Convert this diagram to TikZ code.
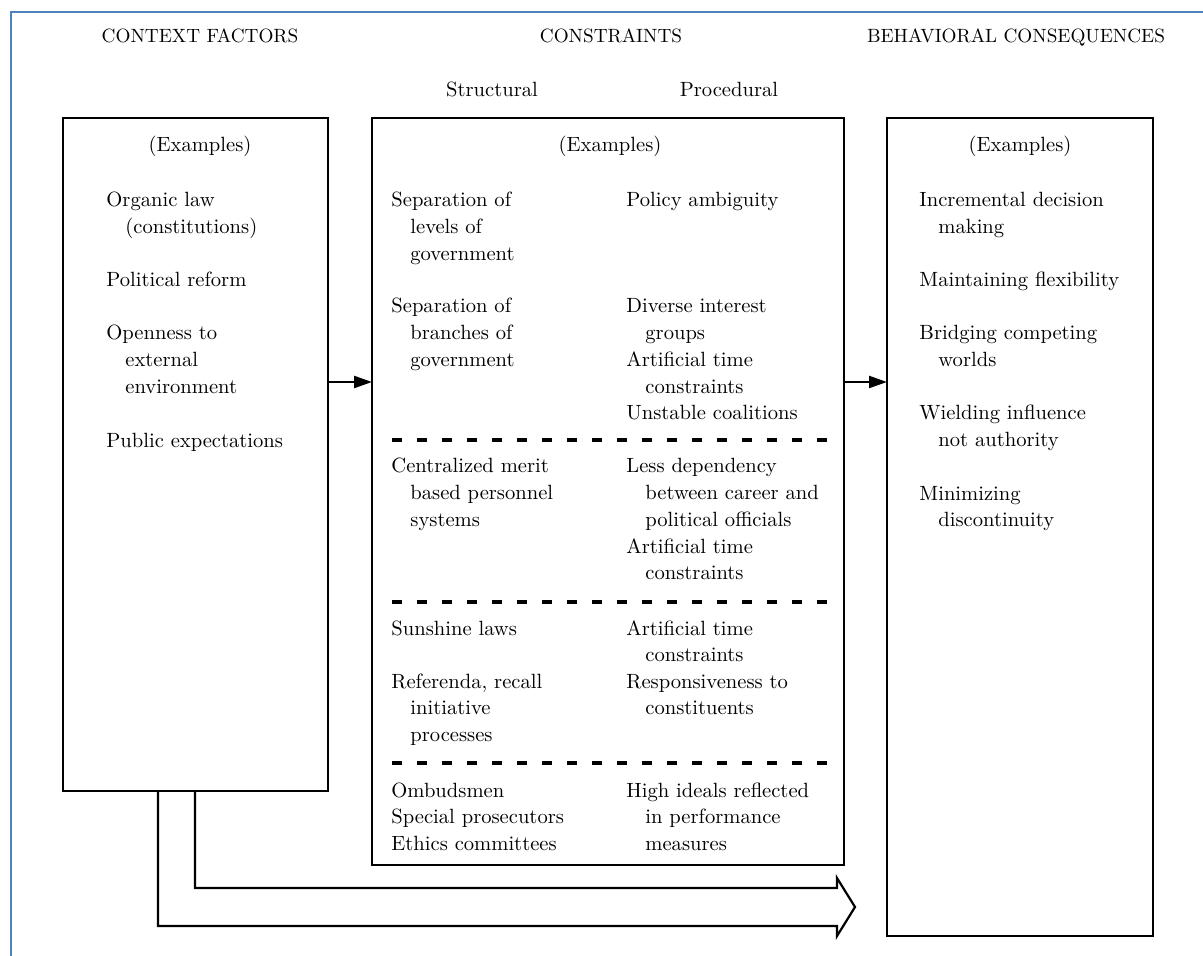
\documentclass[tikz,border=0pt]{standalone}
\usepackage{fontspec}
\usetikzlibrary{arrows.meta}
\definecolor{frameblue}{RGB}{79,129,189}
\newcommand\bodyfont{\fontsize{10.3}{13.35}\selectfont}
\newcommand\headfont{\fontsize{9.6}{12}\selectfont}
\newcommand\hind{\hspace*{9.5pt}}
\tikzset{
  x=0.5pt, y=-0.5pt,
  box/.style={draw, line width=1.1pt, anchor=north west, inner sep=0pt, outer sep=0pt},
  head/.style={anchor=base, inner sep=0pt, font=\headfont},
  sub/.style={anchor=base, inner sep=0pt, font=\bodyfont},
  item/.style={anchor=base west, inner sep=0pt, text width=125pt, align=left, font=\bodyfont},
  sep/.style={line width=1.6pt, dash pattern=on 5pt off 7.5pt},
  link/.style={line width=1.2pt, -{Triangle[length=9pt,width=6pt]}},
  hollow/.style={line width=1.1pt, line join=miter},
}
\begin{document}
\begin{tikzpicture}
\useasboundingbox (0,0) rectangle (1203,956);
% page frame
\draw[frameblue, line width=1pt] (11,956) -- (11,12) -- (1203,12);

% column headings
\node[head] (hctx) at (200,43) {CONTEXT FACTORS};
\node[head] (hcon) at (611,43) {CONSTRAINTS};
\node[head] (hbeh) at (1016,43) {BEHAVIORAL CONSEQUENCES};
\node[sub] (hstr) at (492,97) {Structural};
\node[sub] (hpro) at (729,97) {Procedural};

% the three boxes
\node[box, minimum width=132.5pt, minimum height=336.5pt] (lbox) at (63,118) {};
\node[box, minimum width=236pt, minimum height=373.5pt] (mbox) at (372,118) {};
\node[box, minimum width=133pt, minimum height=409pt] (rbox) at (887,118) {};

\node[sub] (lex) at (200,152) {(Examples)};
\node[sub] (mex) at (610,152) {(Examples)};
\node[sub] (rex) at (1020,152) {(Examples)};

% context factors
\node[item] (c1) at (106,207) {Organic law\\\hind(constitutions)};
\node[item] (c2) at (106,287) {Political reform};
\node[item] (c3) at (106,340) {Openness to\\\hind external\\\hind environment};
\node[item] (c4) at (106,447) {Public expectations};

% constraints, structural
\node[item] (s1) at (391,207) {Separation of\\\hind levels of\\\hind government};
\node[item] (s2) at (391,313) {Separation of\\\hind branches of\\\hind government};
\node[item] (s3) at (391,473) {Centralized merit\\\hind based personnel\\\hind systems};
\node[item] (s4) at (391,635) {Sunshine laws};
\node[item] (s5) at (391,688) {Referenda, recall\\\hind initiative\\\hind processes};
\node[item] (s6) at (391,797) {Ombudsmen\\Special prosecutors\\Ethics committees};

% constraints, procedural
\node[item] (p1) at (626,207) {Policy ambiguity};
\node[item] (p2) at (626,313) {Diverse interest\\\hind groups};
\node[item] (p3) at (626,367) {Artificial time\\\hind constraints};
\node[item] (p4) at (626,420) {Unstable coalitions};
\node[item] (p5) at (626,473) {Less dependency\\\hind between career and\\\hind political officials};
\node[item] (p6) at (626,553) {Artificial time\\\hind constraints};
\node[item] (p7) at (626,635) {Artificial time\\\hind constraints};
\node[item] (p8) at (626,688) {Responsiveness to\\\hind constituents};
\node[item] (p9) at (626,797) {High ideals reflected\\\hind in performance\\\hind measures};

% behavioral consequences
\node[item] (b1) at (919,207) {Incremental decision\\\hind making};
\node[item] (b2) at (919,287) {Maintaining flexibility};
\node[item] (b3) at (919,340) {Bridging competing\\\hind worlds};
\node[item] (b4) at (919,420) {Wielding influence\\\hind not authority};
\node[item] (b5) at (919,500) {Minimizing\\\hind discontinuity};

% dashed separators inside the constraints box
\coordinate (d1a) at (392,440); \coordinate (d1b) at (828,440);
\coordinate (d2a) at (392,602); \coordinate (d2b) at (828,602);
\coordinate (d3a) at (392,763); \coordinate (d3b) at (828,763);
\draw[sep] (d1a) -- (d1b);
\draw[sep] (d2a) -- (d2b);
\draw[sep] (d3a) -- (d3b);

% arrows between the boxes
\draw[link] (lbox.east |- 0,382) -- (mbox.west |- 0,382);
\draw[link] (mbox.east |- 0,382) -- (rbox.west |- 0,382);

% broad hollow arrow from the context box to the consequences
\coordinate (hin) at (lbox.south west -| 195,0);
\coordinate (hout) at (lbox.south west -| 158,0);
\draw[hollow] (hin) -- (195,888) -- (837,888) -- (837,878) -- (855,907)
  -- (837,936) -- (837,926) -- (158,926) -- (hout);
\end{tikzpicture}
\end{document}
